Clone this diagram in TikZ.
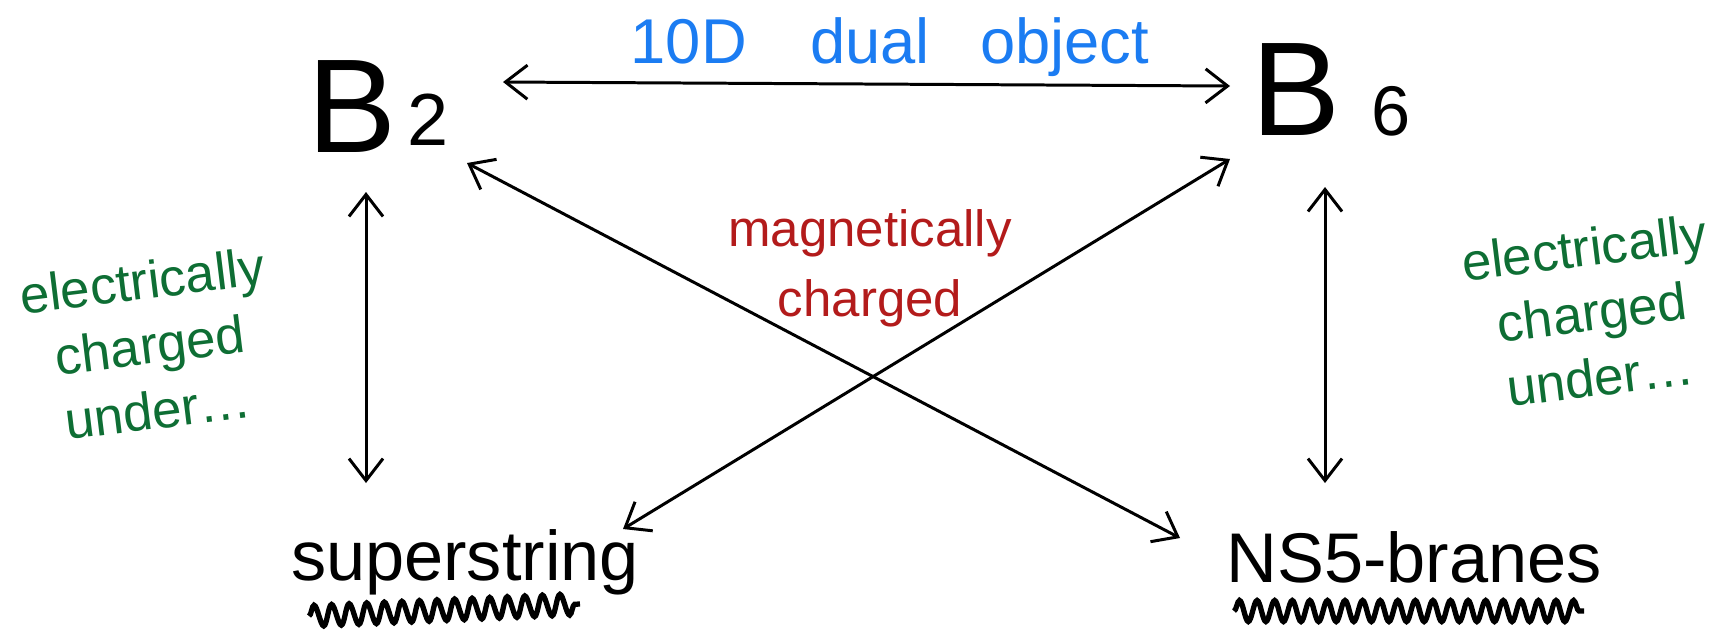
\documentclass[tikz,border=0pt]{standalone}
\usepackage{fontspec}
\setmainfont{Liberation Sans}
\usetikzlibrary{arrows.meta,calc,decorations.pathmorphing}
\definecolor{eblue}{HTML}{1B7CF2}
\definecolor{ered}{HTML}{B31B1B}
\definecolor{egreen}{HTML}{0E6E34}
\begin{document}
\begin{tikzpicture}[x=0.01cm,y=-0.01cm,
  arr/.style={line width=0.85pt,{Straight Barb[length=2.2mm,width=3.4mm]}-{Straight Barb[length=2.2mm,width=3.4mm]}},
  big/.style={inner sep=0pt,font=\fontsize{38}{38}\selectfont},
  lbl/.style={inner sep=0pt,anchor=base,font=\fontsize{20}{24}\selectfont},
  squig/.style={line width=1.5pt,decorate,decoration={snake,amplitude=3pt,segment length=5pt}},
  greentxt/.style={inner sep=0pt,text=egreen,align=center,rotate=7,font=\fontsize{15}{18.5}\selectfont},
]
\useasboundingbox (0,0) rectangle (1722,629);

% main nodes
\node[big] (B2) at (378,107) {B\hspace{3pt}\raisebox{2pt}{\fontsize{21}{21}\selectfont 2}};
\node[big] (B6) at (1331,90) {B\hspace{9pt}\raisebox{0pt}{\fontsize{20}{20}\selectfont 6}};
\node[lbl] (super) at (465,580) {superstring};
\node[lbl] (ns5) at (1414,582) {NS5-branes};

% labels
\node[inner sep=0pt,text=eblue,font=\fontsize{18}{20}\selectfont] (dual) at (890,47) {10D\hspace{1em}dual\hspace{0.8em}object};
\node[inner sep=0pt,text=ered,align=center,font=\fontsize{14.5}{20}\selectfont] (mag) at (870,268) {magnetically\\charged};
\node[greentxt] (eleft) at (150,345) {electrically\\charged\\under\ldots};
\node[greentxt] (eright) at (1592,312) {electrically\\charged\\under\ldots};

% connectors
\draw[arr] ($(B2)+(125,-25)$) -- ($(B6)+(-101,-4)$);
\draw[arr] ($(B2)+(-12,85)$) -- ($(super.base)+(-99,-97)$);
\draw[arr] ($(B6)+(-6,97)$) -- ($(ns5.base)+(-89,-99)$);
\draw[arr] ($(B2)+(89,56)$) -- ($(ns5.base)+(-234,-44)$);
\draw[arr] ($(super.base)+(158,-51)$) -- ($(B6)+(-101,69)$);

% squiggly underlines
\draw[squig] ($(super.base)+(-156,36)$) -- ($(super.base)+(115,24)$);
\draw[squig] ($(ns5.base)+(-180,29)$) -- ($(ns5.base)+(170,29)$);
\end{tikzpicture}
\end{document}
